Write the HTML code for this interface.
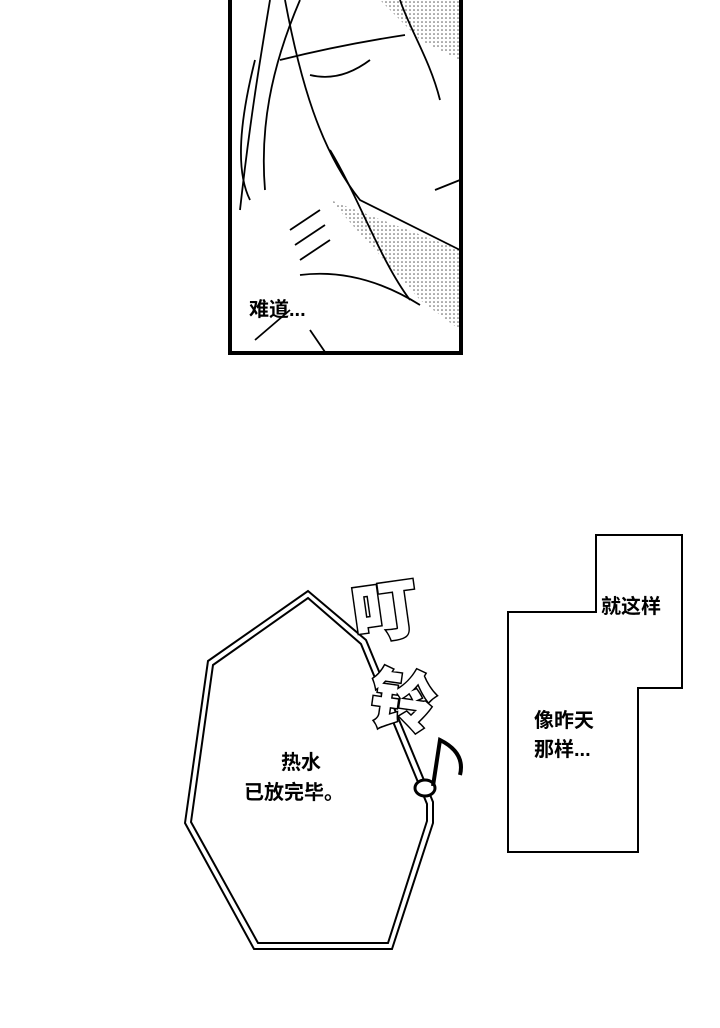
<!DOCTYPE html>
<html><head><meta charset="utf-8"><style>
html,body{margin:0;padding:0;background:#fff;}
body{width:720px;height:1028px;position:relative;overflow:hidden;font-family:"Liberation Sans","Noto Sans CJK SC",sans-serif;}
.t{position:absolute;font-size:20px;color:#000;font-weight:bold;line-height:28px;}
</style></head><body>
<svg width="720" height="1028" style="position:absolute;left:0;top:0">
<defs>
<pattern id="dots" width="4" height="4" patternUnits="userSpaceOnUse"><circle cx="2" cy="2" r="0.8" fill="#555"/></pattern>
</defs>
<g fill="none" stroke="#000" stroke-width="1.8">
<path d="M330 200 L460 250 L460 330 L420 300 Z" fill="url(#dots)" stroke="none"/>
<path d="M380 0 L460 0 L460 60 L420 40 Z" fill="url(#dots)" stroke="none"/>
<path d="M270 0 C260 60 250 120 240 210"/>
<path d="M285 0 C300 80 320 150 360 200 L460 250"/>
<path d="M300 0 C270 70 260 130 265 190"/>
<path d="M255 60 C240 120 235 170 250 200"/>
<path d="M280 60 C300 55 340 45 405 35"/>
<path d="M310 75 C330 80 350 75 370 60"/>
<path d="M330 150 C360 200 380 260 410 300"/>
<path d="M300 275 C340 270 380 280 420 305"/>
<path d="M290 230 L320 210 M295 245 L325 225 M300 260 L330 240"/>
<path d="M255 340 L290 310 M310 330 L325 352"/>
<path d="M435 190 L460 180"/>
<path d="M400 0 C410 30 430 60 440 100"/>
</g>
<rect x="230" y="-4" width="231" height="357" fill="none" stroke="#000" stroke-width="4"/>
<polygon points="308,591 366,640 433,802 433,823 392,949 254,949 185,823 208,661" fill="#fff" stroke="#000" stroke-width="2"/>
<polygon points="308,598 361,644 427,804 427,821 388,943 258,943 191,822 213,665" fill="none" stroke="#000" stroke-width="2"/>
<polygon points="596,535 682,535 682,688 638,688 638,852 508,852 508,612 596,612" fill="#fff" stroke="#000" stroke-width="2"/>
<g font-family="Liberation Sans, Noto Sans CJK SC, sans-serif" font-weight="900" fill="#fff" stroke="#000" stroke-width="3" paint-order="stroke">
<text x="352" y="635" font-size="66" transform="rotate(-8 385 610)">叮</text>
<text x="370" y="725" font-size="66" transform="rotate(8 405 700)">铃</text>
</g>
<g stroke="#000" stroke-width="3" fill="#fff">
<ellipse cx="425" cy="788" rx="10" ry="8"/>
<path d="M433 786 L440 740 C450 745 465 755 460 775" fill="none" stroke-width="4"/>
</g>
</svg>
<div class="t" style="left:249px;top:296px;">难道...</div>
<div class="t" style="left:281px;top:749px;">热水</div>
<div class="t" style="left:244px;top:779px;">已放完毕。</div>
<div class="t" style="left:601px;top:593px;">就这样</div>
<div class="t" style="left:534px;top:707px;">像昨天</div>
<div class="t" style="left:534px;top:736px;">那样...</div>
</body></html>
